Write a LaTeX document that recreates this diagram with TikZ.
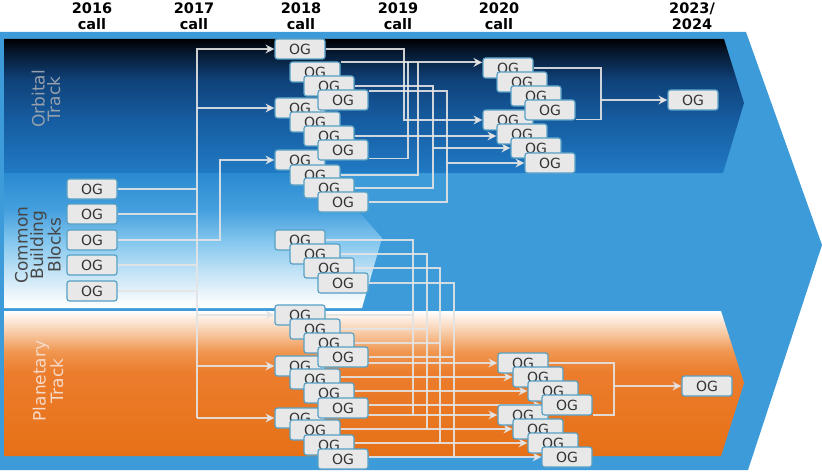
\documentclass[tikz,border=0pt]{standalone}
\usepackage{fontspec}
\setmainfont{DejaVu Sans}
\usepackage{xcolor}
\usepackage{tikz}
\usetikzlibrary{arrows.meta, positioning, backgrounds}

\definecolor{trackblue}{RGB}{62,155,218}
\definecolor{ogfill}{RGB}{232,232,232}
\definecolor{ogedge}{RGB}{86,160,198}
\definecolor{wirecol}{RGB}{228,228,228}
\definecolor{orbtext}{RGB}{150,160,172}
\definecolor{cbbtext}{RGB}{70,70,70}
\definecolor{platext}{RGB}{246,218,200}

% band shadings (the 25bp..75bp part fills the band)
\pgfdeclareverticalshading{orbshade}{100bp}{color(0bp)=(rgb,255:red,32;green,122;blue,196); color(25bp)=(rgb,255:red,32;green,122;blue,196); color(45bp)=(rgb,255:red,22;green,92;blue,160); color(60bp)=(rgb,255:red,15;green,65;blue,120); color(71bp)=(rgb,255:red,5;green,20;blue,40); color(75bp)=(black); color(100bp)=(black)}
\pgfdeclareverticalshading{cbbshade}{100bp}{color(0bp)=(white); color(25bp)=(white); color(28bp)=(rgb,255:red,245;green,250;blue,252); color(39bp)=(rgb,255:red,190;green,225;blue,245); color(50bp)=(rgb,255:red,130;green,198;blue,238); color(61bp)=(rgb,255:red,70;green,160;blue,222); color(75bp)=(rgb,255:red,42;green,138;blue,208); color(100bp)=(rgb,255:red,42;green,138;blue,208)}
\pgfdeclareverticalshading{plashade}{100bp}{color(0bp)=(rgb,255:red,230;green,112;blue,22); color(25bp)=(rgb,255:red,230;green,112;blue,22); color(54bp)=(rgb,255:red,236;green,125;blue,45); color(61bp)=(rgb,255:red,240;green,150;blue,80); color(68bp)=(rgb,255:red,248;green,205;blue,170); color(75bp)=(white); color(100bp)=(white)}

\pgfdeclarelayer{back}
\pgfdeclarelayer{wires}
\pgfsetlayers{back,wires,main}

\begin{document}
\begin{tikzpicture}[
    x=1pt, y=-1pt,
    >={Stealth[length=9pt,width=9pt]},
    og/.style={rectangle, rounded corners=2.5pt, minimum width=50pt, minimum height=20pt, inner sep=0pt, draw=ogedge, fill=ogfill, line width=1.2pt, text=black!80, font=\fontsize{14}{16}\selectfont},
    year/.style={align=center, font=\bfseries\fontsize{14.5}{16}\selectfont},
    track/.style={rotate=90, align=center, font=\fontsize{17}{15.5}\selectfont},
    wire/.style={draw=wirecol, draw opacity=0.9, line width=1.8pt}
]
\useasboundingbox (0,0) rectangle (822,476);

% Track bands
\begin{pgfonlayer}{back}
\fill[trackblue] (0,32) -- (746,32) -- (822,245) -- (748,470) -- (0,470) -- cycle;
\shade[shading=orbshade] (4,39) -- (724,39) -- (744,103) -- (723,173) -- (4,173) -- cycle;
\shade[shading=cbbshade] (4,173) -- (325,173) -- (382,238) -- (362,308) -- (4,308) -- cycle;
\shade[shading=plashade] (4,311) -- (721,311) -- (744,383) -- (721,456) -- (4,456) -- cycle;
\end{pgfonlayer}

% Call years
\node[year] (y2016) at (92,16) {2016\\call};
\node[year] (y2017) at (194,16) {2017\\call};
\node[year] (y2018) at (301,16) {2018\\call};
\node[year] (y2019) at (398,16) {2019\\call};
\node[year] (y2020) at (499,16) {2020\\call};
\node[year] (y2023) at (692,16) {2023/\\2024};

% Track names
\node[track, text=orbtext] (orbital) at (46,99) {Orbital\\Track};
\node[track, text=cbbtext] (common) at (38,245) {Common\\Building\\Blocks};
\node[track, text=platext] (planetary) at (48,381) {Planetary\\Track};

% 2016 call
\node[og] (cb1) at (92,189) {OG};
\node[og] (cb2) at (92,214) {OG};
\node[og] (cb3) at (92,240) {OG};
\node[og] (cb4) at (92,265) {OG};
\node[og] (cb5) at (92,291) {OG};

% 2018 call, orbital
\node[og] (orbC1) at (300,160) {OG};
\node[og] (orbC2) at (315,175) {OG};
\node[og] (orbC3) at (329,188) {OG};
\node[og] (orbC4) at (343,202) {OG};
\node[og] (orbB1) at (300,108) {OG};
\node[og] (orbB2) at (315,122) {OG};
\node[og] (orbB3) at (329,136) {OG};
\node[og] (orbB4) at (343,150) {OG};
\node[og] (orbA1) at (300,49) {OG};
\node[og] (orbA2) at (315,72) {OG};
\node[og] (orbA3) at (329,86) {OG};
\node[og] (orbA4) at (343,100) {OG};

% 2018 call, building blocks
\node[og] (bbl1) at (300,240) {OG};
\node[og] (bbl2) at (315,254) {OG};
\node[og] (bbl3) at (329,268) {OG};
\node[og] (bbl4) at (343,283) {OG};

% 2018 call, planetary
\node[og] (plaC1) at (300,418) {OG};
\node[og] (plaC2) at (315,430) {OG};
\node[og] (plaC3) at (329,445) {OG};
\node[og] (plaC4) at (343,459) {OG};
\node[og] (plaB1) at (300,366) {OG};
\node[og] (plaB2) at (315,379) {OG};
\node[og] (plaB3) at (329,393) {OG};
\node[og] (plaB4) at (343,408) {OG};
\node[og] (plaA1) at (300,315) {OG};
\node[og] (plaA2) at (315,329) {OG};
\node[og] (plaA3) at (329,343) {OG};
\node[og] (plaA4) at (343,357) {OG};

% 2020 call, orbital
\node[og] (orbY1) at (508,120) {OG};
\node[og] (orbY2) at (522,134) {OG};
\node[og] (orbY3) at (536,148) {OG};
\node[og] (orbY4) at (550,163) {OG};
\node[og] (orbX1) at (508,68) {OG};
\node[og] (orbX2) at (522,82) {OG};
\node[og] (orbX3) at (536,96) {OG};
\node[og] (orbX4) at (550,110) {OG};

% 2020 call, planetary
\node[og] (plaY1) at (523,415) {OG};
\node[og] (plaY2) at (538,429) {OG};
\node[og] (plaY3) at (553,443) {OG};
\node[og] (plaY4) at (567,457) {OG};
\node[og] (plaX1) at (523,363) {OG};
\node[og] (plaX2) at (538,377) {OG};
\node[og] (plaX3) at (553,391) {OG};
\node[og] (plaX4) at (567,405) {OG};

% 2023/2024
\node[og] (orbfinal) at (693,100) {OG};
\node[og] (plafinal) at (707,386) {OG};

% Bus lines
\coordinate (bus17) at (197,0);
\coordinate (bus17b) at (220,0);
\coordinate (bus19a) at (404,0);
\coordinate (bus19b) at (408,0);
\coordinate (bus19c) at (418,0);
\coordinate (bus19d) at (433,0);
\coordinate (bus19e) at (447,0);
\coordinate (bus19f) at (413,0);
\coordinate (bus19g) at (427,0);
\coordinate (bus19h) at (440,0);
\coordinate (bus19i) at (454,0);
\coordinate (orbtap) at ([yshift=-1pt]orbA2.north east);
\coordinate (orbjoin) at (601,100);
\coordinate (plajoin) at (614,386);

% Arrows
\begin{pgfonlayer}{wires}
\draw[wire] (cb1) -- (cb1 -| bus17);
\draw[wire] (cb2) -- (cb2 -| bus17);
\draw[wire] (cb4) -- (cb4 -| bus17);
\draw[wire] (cb5) -- (cb5 -| bus17);
\draw[wire, ->] (bus17 |- plaC1) |- (orbA1);
\draw[wire, ->] (bus17 |- orbB1) -- (orbB1);
\draw[wire, ->] (bus17 |- plaA1) -- (plaA1);
\draw[wire, ->] (bus17 |- plaB1) -- (plaB1);
\draw[wire, ->] (bus17 |- plaC1) -- (plaC1);
\draw[wire, ->] (cb3) -| (bus17b |- orbC1) -- (orbC1);

\draw[wire, ->] (orbA1) -| (bus19a |- orbY1) -- (orbY1);
\draw[wire, ->] (orbtap) -- (orbtap -| orbX1.west);
\draw[wire] ([yshift=2pt]orbB4.south east) -| (bus19b |- orbtap);
\draw[wire] (orbC2) -| (bus19c |- orbtap);
\draw[wire, ->] (orbB3) -- (orbB3 -| orbY2.west);
\draw[wire] (orbA3) -| (bus19d |- orbC3) -- (orbC3);
\draw[wire, ->] (bus19d |- orbY3) -- (orbY3);
\draw[wire] ([yshift=-2pt]orbA4.north east) -| (bus19e |- orbC4) -- (orbC4);
\draw[wire, ->] (bus19e |- orbY4) -- (orbY4);

\draw[wire, ->] (bbl1) -| (bus19f |- plaY1) -- (plaY1);
\draw[wire, ->] (bbl2) -| (bus19g |- plaY2) -- (plaY2);
\draw[wire, ->] (bbl3) -| (bus19h |- plaY3) -- (plaY3);
\draw[wire, ->] (bbl4) -| (bus19i |- plaY4) -- (plaY4);
\draw[wire] (plaA1) -- (plaA1 -| bus19f);
\draw[wire] (plaA2) -- (plaA2 -| bus19g);
\draw[wire] (plaA3) -- (plaA3 -| bus19h);
\draw[wire] (plaA4) -- (plaA4 -| bus19i);
\draw[wire, ->] (plaB1.east |- plaX1) -- (plaX1);
\draw[wire, ->] (plaB2.east |- plaX2) -- (plaX2);
\draw[wire, ->] (plaB3.east |- plaX3) -- (plaX3);
\draw[wire, ->] (plaB4.east |- plaX4) -- (plaX4);
\draw[wire] (plaC1.east |- plaY1) -- (bus19f |- plaY1);
\draw[wire] (plaC2.east |- plaY2) -- (bus19g |- plaY2);
\draw[wire] (plaC3.east |- plaY3) -- (bus19h |- plaY3);
\draw[wire] (plaC4.east |- plaY4) -- (bus19i |- plaY4);

\draw[wire] (orbX1) -| (orbjoin) |- ([yshift=1pt]orbX4.south east);
\draw[wire, ->] (orbjoin) -- (orbfinal);
\draw[wire] (plaX1) -| (plajoin) |- ([yshift=1pt]plaX4.south east);
\draw[wire, ->] (plajoin) -- (plafinal);
\end{pgfonlayer}

\end{tikzpicture}
\end{document}
